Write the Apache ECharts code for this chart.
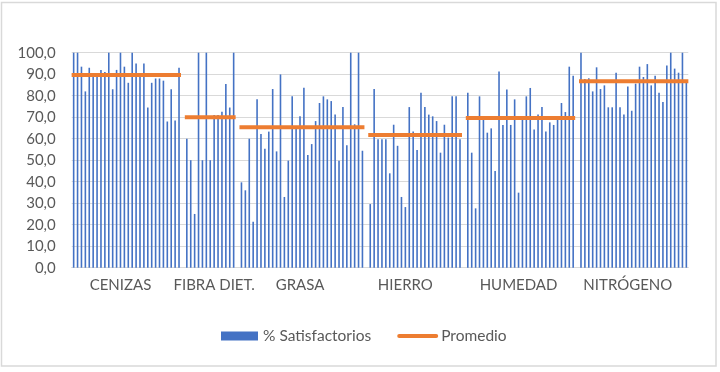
<!DOCTYPE html>
<html><head><meta charset="utf-8">
<script src="https://cdn.jsdelivr.net/npm/echarts@6/dist/echarts.min.js"></script>
<style>html,body{margin:0;padding:0;background:#fff}#c{width:720px;height:372px}</style>
</head><body><div id="c"></div>
<script>
const groupNames = ['CENIZAS', 'FIBRA DIET.', 'GRASA', 'HIERRO', 'HUMEDAD', 'NITRÓGENO'];
const cenizas = [100,100,93.5,82,93,89,89,92,91,100,83,92,100,93.5,86,100,95,89,95,74.5,86,88,88,87,68,83,68.5,93];
const fibra = [60,50,25,100,50,100,50,71,71,72.5,85.5,74.5,100];
const grasa = [39.7,36,60,21.4,78.3,62.2,55.3,63.3,83.1,54.1,89.9,32.9,49.8,79.7,64.5,70.4,83.7,52.4,57.5,68.2,76.6,79.7,78.3,77.5,71.3,49.8,74.7,56.9,100,66.7,100,54.4];
const hierro = [29.6,83.1,59.8,59.8,59.8,43.9,66.5,56.7,32.9,28.2,74.7,63.4,54.7,81.4,74.7,71.2,70.4,68.2,53.5,66.5,60.5,79.7,79.7,59.8];
const humedad = [81.4,53.5,27.6,79.7,68.7,62.8,64.8,45,91.3,66.4,82.9,66.4,78.3,34.9,68.7,79.7,83.6,64.3,71.3,74.7,63.3,67.6,66.4,68.7,76.6,72.4,93.5,89.3];
const nitrogeno = [100,87.8,88.1,82,93.2,83.1,84.8,74.6,74.6,90.7,74.6,71.2,84.3,73,85.6,93.5,88.7,94.7,84.8,89.3,81.4,77.1,94,100,92.6,90.7,100,86.5];
const promedio = [89.6, 70, 65.3, 61.7, 69.6, 86.7];
const labelSlots = [12, 36, 58, 85, 114, 142];
const seriesNames = ['% Satisfactorios', 'Promedio'];

const groups = [cenizas, fibra, grasa, hierro, humedad, nitrogeno];
const categories = [], barData = [], lineData = [], slotGroup = [];
groups.forEach((g, gi) => {
  if (gi > 0) { categories.push('gap' + gi); barData.push(null); lineData.push(null); slotGroup.push(-1); }
  g.forEach((v, i) => {
    categories.push(groupNames[gi] + ' ' + (i + 1));
    barData.push(v); lineData.push(promedio[gi]); slotGroup.push(gi);
  });
});

const FONT = 'Lato';
const chart = echarts.init(document.getElementById('c'), null, {renderer: 'canvas'});
chart.setOption({
  animation: false,
  backgroundColor: '#fff',
  graphic: [{
    type: 'rect', silent: true, z: -10,
    shape: {x: 1.5, y: 2.5, width: 714.5, height: 363.5},
    style: {fill: 'none', stroke: '#D9D9D9', lineWidth: 1.5}
  }],
  grid: {left: 71.7, right: 31.7, top: 52.7, bottom: 104.3, containLabel: false},
  legend: {
    top: 323, left: 216,
    itemWidth: 37, itemHeight: 9, itemGap: 26,
    textStyle: {fontFamily: FONT, fontSize: 15.5, color: '#595959'},
    data: [
      {name: seriesNames[0], icon: 'rect'},
      {name: seriesNames[1], icon: 'inherit', itemStyle: {opacity: 0, color: 'rgba(0,0,0,0)', borderWidth: 0},
       lineStyle: {width: 4, cap: 'round', color: '#ED7D31'}}
    ]
  },
  xAxis: {
    type: 'category', data: categories, boundaryGap: true,
    axisLine: {show: true, lineStyle: {color: '#D9D9D9', width: 1}},
    axisTick: {show: false},
    splitLine: {show: false},
    axisLabel: {
      interval: (idx) => labelSlots.indexOf(idx) >= 0,
      formatter: (val, idx) => labelSlots.indexOf(idx) >= 0 ? groupNames[slotGroup[idx]] : '',
      fontFamily: FONT, fontSize: 15, color: '#595959', margin: 10, hideOverlap: false
    }
  },
  yAxis: {
    type: 'value', min: 0, max: 100, interval: 10,
    axisLine: {show: false}, axisTick: {show: false},
    splitLine: {lineStyle: {color: '#D9D9D9', width: 1}},
    axisLabel: {
      formatter: v => v.toFixed(1).replace('.', ','),
      fontFamily: FONT, fontSize: 15, color: '#595959', margin: 16
    }
  },
  series: [
    {name: seriesNames[0], type: 'bar', data: barData, barWidth: 1.6,
     itemStyle: {color: '#4472C4'}},
    {name: seriesNames[1], type: 'line', data: lineData, symbol: 'none', connectNulls: false,
     z: 5, lineStyle: {color: '#ED7D31', width: 4, cap: 'square'}, itemStyle: {color: '#ED7D31'}}
  ]
});
</script></body></html>
